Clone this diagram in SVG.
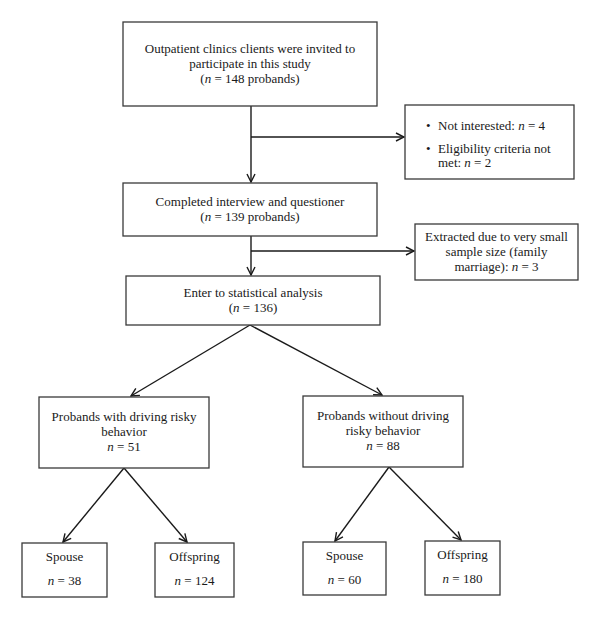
<svg xmlns="http://www.w3.org/2000/svg" width="600" height="618" viewBox="0 0 600 618">
<style>
  .box { fill: #ffffff; stroke: #3a3a3a; stroke-width: 1.3; }
  .t { font-family: "Liberation Serif", "Times New Roman", serif; font-size: 13px; fill: #1a1a1a; }
  .c { text-anchor: middle; }
  .i { font-style: italic; }
  .ln { fill: none; stroke: #1a1a1a; stroke-width: 1.4; }
</style>
<defs>
  <marker id="arr" viewBox="0 0 10 10" refX="9" refY="5" markerWidth="10" markerHeight="10" markerUnits="userSpaceOnUse" orient="auto">
    <path d="M1,1 L9,5 L1,9" fill="none" stroke="#1a1a1a" stroke-width="1.4"/>
  </marker>
</defs>
<rect width="600" height="618" fill="#ffffff"/>

<g id="connectors">
  <line class="ln" x1="251" y1="106" x2="251" y2="182" marker-end="url(#arr)"/>
  <line class="ln" x1="251" y1="137" x2="404" y2="137" marker-end="url(#arr)"/>
  <line class="ln" x1="251" y1="236" x2="251" y2="275" marker-end="url(#arr)"/>
  <line class="ln" x1="251" y1="251" x2="414" y2="251" marker-end="url(#arr)"/>
  <line class="ln" x1="250" y1="325" x2="131" y2="396" marker-end="url(#arr)"/>
  <line class="ln" x1="250" y1="325" x2="382" y2="395" marker-end="url(#arr)"/>
  <line class="ln" x1="124" y1="468" x2="63" y2="542" marker-end="url(#arr)"/>
  <line class="ln" x1="124" y1="468" x2="187" y2="542" marker-end="url(#arr)"/>
  <line class="ln" x1="389" y1="467" x2="335" y2="541" marker-end="url(#arr)"/>
  <line class="ln" x1="389" y1="467" x2="461" y2="540" marker-end="url(#arr)"/>
</g>

<g id="invited">
  <rect class="box" x="123" y="22" width="254" height="84"/>
  <text class="t c" x="250" y="53">Outpatient clinics clients were invited to</text>
  <text class="t c" x="250" y="68">participate in this study</text>
  <text class="t c" x="250" y="83">(<tspan class="i">n</tspan> = 148 probands)</text>
</g>

<g id="excluded1">
  <rect class="box" x="405" y="105" width="169" height="74"/>
  <text class="t" x="426" y="130">•</text>
  <text class="t" x="438" y="130">Not interested: <tspan class="i">n</tspan> = 4</text>
  <text class="t" x="426" y="153">•</text>
  <text class="t" x="438" y="153">Eligibility criteria not</text>
  <text class="t" x="438" y="167">met: <tspan class="i">n</tspan> = 2</text>
</g>

<g id="completed">
  <rect class="box" x="123" y="183" width="254" height="53"/>
  <text class="t c" x="250" y="206">Completed interview and questioner</text>
  <text class="t c" x="250" y="221">(<tspan class="i">n</tspan> = 139 probands)</text>
</g>

<g id="excluded2">
  <rect class="box" x="415" y="224" width="163" height="56"/>
  <text class="t c" x="496.5" y="241">Extracted due to very small</text>
  <text class="t c" x="496.5" y="256">sample size (family</text>
  <text class="t c" x="496.5" y="271">marriage): <tspan class="i">n</tspan> = 3</text>
</g>

<g id="analysis">
  <rect class="box" x="126" y="276" width="254" height="49"/>
  <text class="t c" x="253" y="297">Enter to statistical analysis</text>
  <text class="t c" x="253" y="312">(<tspan class="i">n</tspan> = 136)</text>
</g>

<g id="with-risky">
  <rect class="box" x="39" y="397" width="170" height="71"/>
  <text class="t c" x="124" y="421">Probands with driving risky</text>
  <text class="t c" x="124" y="436">behavior</text>
  <text class="t c" x="124" y="451"><tspan class="i">n</tspan> = 51</text>
</g>

<g id="without-risky">
  <rect class="box" x="303" y="396" width="160" height="71"/>
  <text class="t c" x="383" y="420">Probands without driving</text>
  <text class="t c" x="383" y="435">risky behavior</text>
  <text class="t c" x="383" y="450"><tspan class="i">n</tspan> = 88</text>
</g>

<g id="spouse1">
  <rect class="box" x="22" y="543" width="85" height="54"/>
  <text class="t c" x="64.5" y="561">Spouse</text>
  <text class="t c" x="64.5" y="585"><tspan class="i">n</tspan> = 38</text>
</g>

<g id="offspring1">
  <rect class="box" x="155" y="543" width="79" height="54"/>
  <text class="t c" x="194.5" y="561">Offspring</text>
  <text class="t c" x="194.5" y="585"><tspan class="i">n</tspan> = 124</text>
</g>

<g id="spouse2">
  <rect class="box" x="303" y="542" width="83" height="53"/>
  <text class="t c" x="344.5" y="560">Spouse</text>
  <text class="t c" x="344.5" y="584"><tspan class="i">n</tspan> = 60</text>
</g>

<g id="offspring2">
  <rect class="box" x="425" y="541" width="75" height="54"/>
  <text class="t c" x="462.5" y="559">Offspring</text>
  <text class="t c" x="462.5" y="583"><tspan class="i">n</tspan> = 180</text>
</g>
</svg>
